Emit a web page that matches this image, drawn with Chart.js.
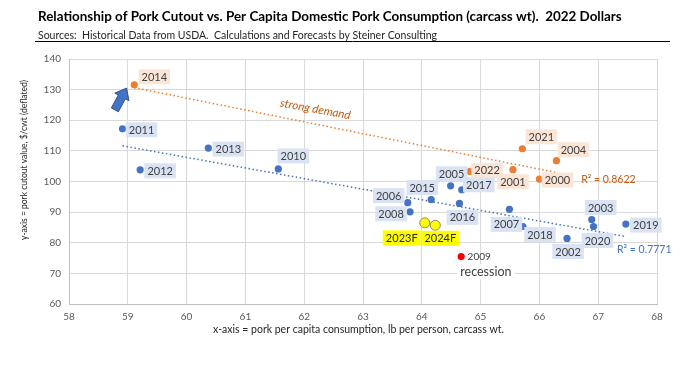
<!DOCTYPE html>
<html>
<head>
<meta charset="utf-8">
<script src="https://cdn.jsdelivr.net/npm/chart.js@4.4.1/dist/chart.umd.min.js"></script>
<style>
  html, body { margin: 0; padding: 0; background: #fff; }
  canvas { display: block; }
</style>
</head>
<body>
<canvas id="chart" width="696" height="365"></canvas>
<script>
// ---- data ----
const blueYears = ['2011', '2012', '2013', '2010', '2005', '2017', '2015', '2006', '2008', '2016', '2007', '2018', '2002', '2003', '2020', '2019'];
const blueX = [58.91, 59.21, 60.37, 61.56, 64.49, 64.68, 64.16, 63.76, 63.80, 64.64, 65.49, 65.72, 66.47, 66.89, 66.92, 67.47];
const blueY = [117.2, 103.8, 110.9, 104.1, 98.6, 97.3, 94.1, 93.1, 90.1, 92.85, 90.9, 85.3, 81.4, 87.6, 85.3, 86.1];

const orangeYears = ['2014', '2021', '2004', '2022', '2001', '2000'];
const orangeX = [59.11, 65.71, 66.29, 64.82, 65.55, 66.00];
const orangeY = [131.6, 110.7, 106.8, 103.3, 103.85, 100.8];

const forecastYears = ['2023F', '2024F'];
const forecastX = [64.05, 64.23];
const forecastY = [86.5, 85.7];

const recessionYears = ['2009'];
const recessionX = [64.67];
const recessionY = [75.5];

const xTicks = [58, 59, 60, 61, 62, 63, 64, 65, 66, 67, 68];
const yTicks = [60, 70, 80, 90, 100, 110, 120, 130, 140];

const titleText = 'Relationship of Pork Cutout vs. Per Capita Domestic Pork Consumption (carcass wt).  2022 Dollars';
const subtitleText = 'Sources:  Historical Data from USDA.  Calculations and Forecasts by Steiner Consulting';
const xTitle = 'x-axis = pork per capita consumption, lb per person, carcass wt.';
const yTitle = 'y-axis = pork cutout value, $/cwt (deflated)';
const orangeR2 = 'R² = 0.8622';
const blueR2 = 'R² = 0.7771';

// ---- layout: where each year label sits relative to its point (px) ----
const labelOffsets = {
  '2014': [20, -8], '2011': [19, 1], '2012': [20, 1], '2013': [20, 1], '2010': [15, -13],
  '2021': [19, -12], '2004': [17, -11], '2022': [17, -1], '2001': [0, 12], '2000': [18, 1],
  '2005': [1, -12], '2017': [17, -5], '2015': [-9, -12], '2006': [-19, -7], '2008': [-19, 2],
  '2016': [3, 14], '2007': [-3, 15], '2018': [17, 8], '2002': [1, 13], '2003': [9, -12],
  '2020': [4, 14], '2019': [20, 1], '2023F': [-23, 15], '2024F': [5, 13], '2009': [18, 0]
};

const FONT = 'Lato, "Open Sans", sans-serif';

function toPoints(xs, ys) {
  return xs.map((x, i) => ({ x: x, y: ys[i] }));
}

// least squares line over the given points, like the spreadsheet trendline
function trend(xs, ys) {
  const n = xs.length;
  const mx = xs.reduce((a, b) => a + b, 0) / n;
  const my = ys.reduce((a, b) => a + b, 0) / n;
  let sxy = 0, sxx = 0;
  xs.forEach((x, i) => { sxy += (x - mx) * (ys[i] - my); sxx += (x - mx) * (x - mx); });
  const m = sxy / sxx;
  const b = my - m * mx;
  const lo = Math.min(...xs), hi = Math.max(...xs);
  return [{ x: lo, y: m * lo + b }, { x: hi, y: m * hi + b }];
}

const blueTrend = trend(blueX.concat(recessionX), blueY.concat(recessionY));
const orangeTrend = trend(orangeX, orangeY);

function fitFont(ctx, text, style, width) {
  ctx.font = style + ' 20px ' + FONT;
  const w = ctx.measureText(text).width;
  return style + ' ' + (20 * width / w).toFixed(2) + 'px ' + FONT;
}

function drawLabel(ctx, text, cx, cy, bg, color, font) {
  ctx.font = font;
  const w = ctx.measureText(text).width + 6;
  const h = 15;
  if (bg) {
    ctx.fillStyle = bg;
    ctx.fillRect(cx - w / 2, cy - h / 2, w, h);
  }
  ctx.fillStyle = color;
  ctx.textAlign = 'center';
  ctx.textBaseline = 'middle';
  ctx.fillText(text, cx, cy + 0.5);
}

const decorations = {
  id: 'decorations',
  beforeDraw(c) {
    const ctx = c.ctx;
    ctx.save();
    ctx.fillStyle = '#fff';
    ctx.fillRect(0, 0, c.width, c.height);
    ctx.restore();
  },
  afterDraw(c) {
    const ctx = c.ctx;
    ctx.save();
    // title block
    ctx.fillStyle = '#000';
    ctx.textAlign = 'left';
    ctx.textBaseline = 'middle';
    ctx.font = fitFont(ctx, titleText, 'bold', 584);
    ctx.fillText(titleText, 38, 17);
    ctx.fillStyle = '#262626';
    ctx.font = fitFont(ctx, subtitleText, 'normal', 399);
    ctx.fillText(subtitleText, 38, 35.5);
    ctx.strokeStyle = '#000';
    ctx.lineWidth = 1;
    ctx.beginPath();
    ctx.moveTo(35, 41.5);
    ctx.lineTo(670, 41.5);
    ctx.stroke();
    // axis titles
    ctx.fillStyle = '#262626';
    ctx.textAlign = 'center';
    ctx.font = fitFont(ctx, xTitle, 'normal', 291);
    ctx.fillText(xTitle, 358.5, 330);
    ctx.translate(24, 160);
    ctx.rotate(-Math.PI / 2);
    ctx.font = fitFont(ctx, yTitle, 'normal', 160);
    ctx.fillText(yTitle, 0, 0);
    ctx.restore();
  },
  afterDatasetsDraw(c) {
    const ctx = c.ctx;
    const xs = c.scales.x, ys = c.scales.y;
    ctx.save();

    // year labels
    c.data.datasets.forEach((ds, i) => {
      if (!ds.years) return;
      c.getDatasetMeta(i).data.forEach((pt, j) => {
        const yr = ds.years[j];
        const off = labelOffsets[yr] || [18, 0];
        drawLabel(ctx, yr, pt.x + off[0], pt.y + off[1], ds.labelBg, ds.labelColor, ds.labelFont);
      });
    });

    // blue block arrow pointing at 2014
    const sx = xs.getPixelForValue(58.78), sy = ys.getPixelForValue(123.4);
    const tx = xs.getPixelForValue(58.98), ty = ys.getPixelForValue(130.5);
    const len = Math.hypot(tx - sx, ty - sy);
    const ux = (tx - sx) / len, uy = (ty - sy) / len;
    const nx = -uy, ny = ux;
    const hb = len - 10;
    const pts = [
      [sx + nx * 4, sy + ny * 4],
      [sx + ux * hb + nx * 4, sy + uy * hb + ny * 4],
      [sx + ux * hb + nx * 8, sy + uy * hb + ny * 8],
      [tx, ty],
      [sx + ux * hb - nx * 8, sy + uy * hb - ny * 8],
      [sx + ux * hb - nx * 4, sy + uy * hb - ny * 4],
      [sx - nx * 4, sy - ny * 4]
    ];
    ctx.beginPath();
    pts.forEach((p, k) => k ? ctx.lineTo(p[0], p[1]) : ctx.moveTo(p[0], p[1]));
    ctx.closePath();
    ctx.fillStyle = '#4472c4';
    ctx.fill();
    ctx.strokeStyle = '#2f528f';
    ctx.lineWidth = 1;
    ctx.stroke();

    // "strong demand" along the orange trend
    const ax = xs.getPixelForValue(orangeTrend[0].x), ay = ys.getPixelForValue(orangeTrend[0].y);
    const bx = xs.getPixelForValue(orangeTrend[1].x), by = ys.getPixelForValue(orangeTrend[1].y);
    ctx.save();
    ctx.translate(xs.getPixelForValue(62.19), ys.getPixelForValue(123.6));
    ctx.rotate(Math.atan2(by - ay, bx - ax) * 0.9);
    ctx.font = 'italic 11.5px ' + FONT;
    ctx.fillStyle = '#c55a11';
    ctx.textAlign = 'center';
    ctx.textBaseline = 'middle';
    ctx.fillText('strong demand', 0, 0);
    ctx.restore();

    // R squared
    ctx.textAlign = 'left';
    ctx.textBaseline = 'middle';
    ctx.font = '10.5px ' + FONT;
    ctx.fillStyle = '#c55a11';
    ctx.fillText(orangeR2, xs.getPixelForValue(66.71), ys.getPixelForValue(100.6));
    ctx.fillStyle = '#4472c4';
    ctx.fillText(blueR2, xs.getPixelForValue(67.32), ys.getPixelForValue(77.7));

    // recession note
    drawLabel(ctx, 'recession', xs.getPixelForValue(65.09), ys.getPixelForValue(70.6), '#fff', '#404040', '12.5px ' + FONT);

    ctx.restore();
  }
};

const ctx = document.getElementById('chart');
const chart = new Chart(ctx, {
  type: 'scatter',
  data: {
    datasets: [
      {
        data: toPoints(forecastX, forecastY),
        years: forecastYears,
        labelBg: '#ffff00', labelColor: '#262626', labelFont: '11px ' + FONT,
        backgroundColor: '#ffff00', borderColor: '#8c8c6a', borderWidth: 1,
        pointRadius: 5,
      },
      {
        data: toPoints(recessionX, recessionY),
        years: recessionYears,
        labelBg: null, labelColor: '#404040', labelFont: '10px ' + FONT,
        backgroundColor: '#ff0000', borderWidth: 0,
        pointRadius: 3.6,
      },
      {
        data: toPoints(orangeX, orangeY),
        years: orangeYears,
        labelBg: '#fbe5d6', labelColor: '#404040', labelFont: '11px ' + FONT,
        backgroundColor: '#ed7d31', borderWidth: 0,
        pointRadius: 3.6,
      },
      {
        data: toPoints(blueX, blueY),
        years: blueYears,
        labelBg: '#dae3f3', labelColor: '#404040', labelFont: '11px ' + FONT,
        backgroundColor: '#4472c4', borderWidth: 0,
        pointRadius: 3.6,
      },
      {
        data: orangeTrend,
        showLine: true, pointRadius: 0,
        borderColor: '#ed7d31', borderWidth: 1.5, borderDash: [1.5, 2.5],
      },
      {
        data: blueTrend,
        showLine: true, pointRadius: 0,
        borderColor: '#4472c4', borderWidth: 1.5, borderDash: [1.5, 2.5],
      },
    ],
  },
  options: {
    responsive: false,
    animation: false,
    events: [],
    layout: {
      padding: { left: 0, top: 59, right: 39, bottom: 0 },
    },
    plugins: {
      legend: { display: false },
      tooltip: { enabled: false },
    },
    scales: {
      x: {
        type: 'linear',
        min: xTicks[0],
        max: xTicks[xTicks.length - 1],
        afterBuildTicks: (s) => { s.ticks = xTicks.map((v) => ({ value: v })); },
        afterFit: (s) => { s.height = 61; },
        ticks: { color: '#595959', font: { family: FONT, size: 10 }, padding: 7 },
        grid: { color: '#d9d9d9', lineWidth: 1, drawTicks: false },
        border: { color: '#bfbfbf' },
      },
      y: {
        min: yTicks[0],
        max: yTicks[yTicks.length - 1],
        afterBuildTicks: (s) => { s.ticks = yTicks.map((v) => ({ value: v })); },
        afterFit: (s) => { s.width = 69; },
        ticks: { color: '#595959', font: { family: FONT, size: 10 }, padding: 8 },
        grid: { color: '#d9d9d9', lineWidth: 1, drawTicks: false },
        border: { color: '#bfbfbf' },
      },
    },
  },
  plugins: [decorations],
});
</script>
</body>
</html>
